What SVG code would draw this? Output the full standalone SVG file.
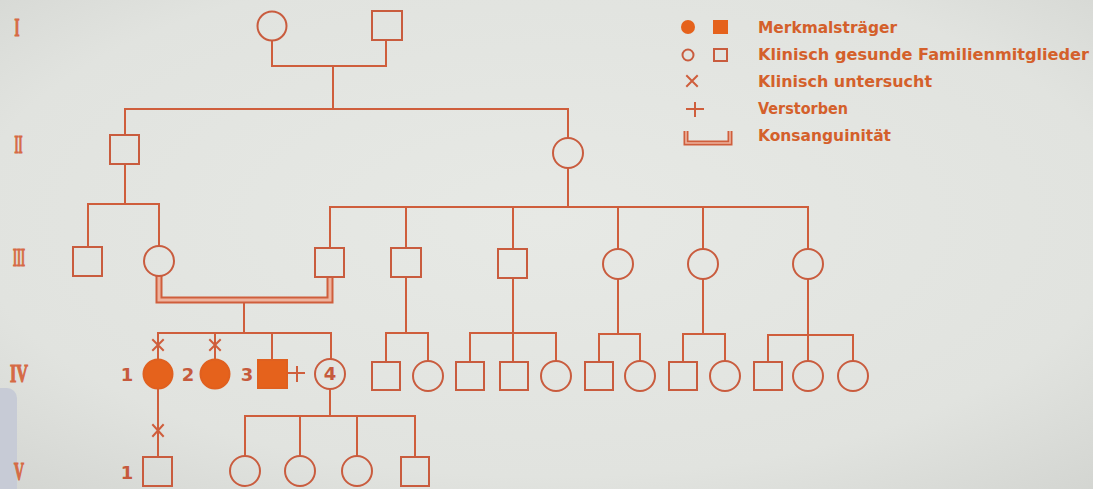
<svg xmlns="http://www.w3.org/2000/svg" width="1093" height="489" viewBox="0 0 1093 489">
<defs>
<radialGradient id="bg" cx="0.5" cy="0.45" r="0.75">
<stop offset="0" stop-color="#e7e9e5"/>
<stop offset="0.7" stop-color="#e1e3df"/>
<stop offset="1" stop-color="#d3d5d1"/>
</radialGradient>
<style>
.ln{fill:none;stroke:#cf5e3c;stroke-width:2;stroke-linecap:square}
.op{fill:none;stroke:#c95c3e;stroke-width:2}
.fl{fill:#e5621c;stroke:#e0601f;stroke-width:2}
.lf{fill:#e5621c}
.cons{fill:none;stroke:#cf5e3c;stroke-width:7;stroke-linejoin:miter}
.consi{fill:none;stroke:#eeb49f;stroke-width:3;stroke-linejoin:miter}
.lg{font-family:"DejaVu Sans","Liberation Sans",sans-serif;font-size:15.5px;fill:#d4602b;font-weight:bold}
.num{font-family:"DejaVu Sans","Liberation Sans",sans-serif;font-size:18px;fill:#c65a3c;font-weight:bold}
.gen{font-family:"Liberation Serif","DejaVu Serif",serif;font-size:25px;fill:#d66a45;stroke:#d66a45;stroke-width:1.2;font-weight:bold}
</style>
</defs>
<rect width="1093" height="489" fill="url(#bg)"/>
<rect x="-10" y="388" width="27" height="110" rx="10" fill="#c7cbd6"/>

<g id="gen-labels">
<text class="gen" x="17" y="36" text-anchor="middle" textLength="5" lengthAdjust="spacingAndGlyphs">I</text>
<text class="gen" x="18.5" y="153" text-anchor="middle" textLength="8" lengthAdjust="spacingAndGlyphs">II</text>
<text class="gen" x="19" y="266" text-anchor="middle" textLength="12" lengthAdjust="spacingAndGlyphs">III</text>
<text class="gen" x="19" y="382" text-anchor="middle" textLength="18" lengthAdjust="spacingAndGlyphs">IV</text>
<text class="gen" x="19" y="480" text-anchor="middle" textLength="10" lengthAdjust="spacingAndGlyphs">V</text>
</g>

<g id="connectors">
<path class="ln" d="M272,41 V66 H386 V40"/>
<path class="ln" d="M333,66 V109"/>
<path class="ln" d="M125,135 V109 H568 V138"/>
<path class="ln" d="M125,164 V204"/>
<path class="ln" d="M88,247 V204 H159 V246"/>
<path class="ln" d="M568,168 V207"/>
<path class="ln" d="M330,248 V207 H808 V249"/>
<path class="ln" d="M406,207 V248"/>
<path class="ln" d="M513,207 V249"/>
<path class="ln" d="M618,207 V249"/>
<path class="ln" d="M703,207 V249"/>
<path class="cons" d="M159,276 V300 H330 V277"/>
<path class="consi" d="M159,276 V300 H330 V277"/>
<path class="ln" d="M244,304 V333"/>
<path class="ln" d="M158,359 V333 H331 V359"/>
<path class="ln" d="M215,333 V359"/>
<path class="ln" d="M272,333 V359"/>
<path class="ln" d="M153,340 L163,350 M163,340 L153,350"/>
<path class="ln" d="M210,340 L220,350 M220,340 L210,350"/>
<path class="ln" d="M158,389 V457"/>
<path class="ln" d="M153,425 L163,436 M163,425 L153,436"/>
<path class="ln" d="M330,389 V416"/>
<path class="ln" d="M245,456 V416 H415 V457"/>
<path class="ln" d="M300,416 V456"/>
<path class="ln" d="M357,416 V456"/>
<path class="ln" d="M288,373 H304 M297,367 V381"/>
<path class="ln" d="M406,277 V333"/>
<path class="ln" d="M386,362 V333 H428 V361"/>
<path class="ln" d="M513,278 V362"/>
<path class="ln" d="M470,362 V333 H556 V361"/>
<path class="ln" d="M618,279 V334"/>
<path class="ln" d="M599,362 V334 H640 V361"/>
<path class="ln" d="M703,279 V334"/>
<path class="ln" d="M683,362 V334 H725 V361"/>
<path class="ln" d="M808,279 V361"/>
<path class="ln" d="M768,362 V335 H853 V361"/>
</g>

<g id="I-1"><circle class="op" cx="272" cy="26" r="14.5"/></g>
<g id="I-2"><rect class="op" x="372" y="11" width="30" height="29"/></g>

<g id="II-1"><rect class="op" x="110" y="135" width="29" height="29"/></g>
<g id="II-2"><circle class="op" cx="568" cy="153" r="15"/></g>

<g id="III-1"><rect class="op" x="73" y="247" width="29" height="29"/></g>
<g id="III-2"><circle class="op" cx="159" cy="261" r="15"/></g>
<g id="III-3"><rect class="op" x="315" y="248" width="29" height="29"/></g>
<g id="III-4"><rect class="op" x="391" y="248" width="30" height="29"/></g>
<g id="III-5"><rect class="op" x="498" y="249" width="29" height="29"/></g>
<g id="III-6"><circle class="op" cx="618" cy="264" r="15"/></g>
<g id="III-7"><circle class="op" cx="703" cy="264" r="15"/></g>
<g id="III-8"><circle class="op" cx="808" cy="264" r="15"/></g>

<g id="IV-1"><circle class="fl" cx="158" cy="374" r="14.5"/><text class="num" x="127" y="381" text-anchor="middle">1</text></g>
<g id="IV-2"><circle class="fl" cx="215" cy="374" r="14.5"/><text class="num" x="188" y="381" text-anchor="middle">2</text></g>
<g id="IV-3"><rect class="fl" x="258" y="360" width="29" height="28"/><text class="num" x="247" y="381" text-anchor="middle">3</text></g>
<g id="IV-4"><circle class="op" cx="330" cy="374" r="15"/><text class="num" x="330" y="380" text-anchor="middle" font-size="16">4</text></g>
<g id="IV-5"><rect class="op" x="372" y="362" width="28" height="28"/></g>
<g id="IV-6"><circle class="op" cx="428" cy="376" r="15"/></g>
<g id="IV-7"><rect class="op" x="456" y="362" width="28" height="28"/></g>
<g id="IV-8"><rect class="op" x="500" y="362" width="28" height="28"/></g>
<g id="IV-9"><circle class="op" cx="556" cy="376" r="15"/></g>
<g id="IV-10"><rect class="op" x="585" y="362" width="28" height="28"/></g>
<g id="IV-11"><circle class="op" cx="640" cy="376" r="15"/></g>
<g id="IV-12"><rect class="op" x="669" y="362" width="28" height="28"/></g>
<g id="IV-13"><circle class="op" cx="725" cy="376" r="15"/></g>
<g id="IV-14"><rect class="op" x="754" y="362" width="28" height="28"/></g>
<g id="IV-15"><circle class="op" cx="808" cy="376" r="15"/></g>
<g id="IV-16"><circle class="op" cx="853" cy="376" r="15"/></g>

<g id="V-1"><rect class="op" x="143" y="457" width="29" height="29"/><text class="num" x="127" y="479" text-anchor="middle">1</text></g>
<g id="V-2"><circle class="op" cx="245" cy="471" r="15"/></g>
<g id="V-3"><circle class="op" cx="300" cy="471" r="15"/></g>
<g id="V-4"><circle class="op" cx="357" cy="471" r="15"/></g>
<g id="V-5"><rect class="op" x="401" y="457" width="28" height="29"/></g>

<g id="legend">
<circle class="lf" cx="688" cy="27" r="7"/>
<rect class="lf" x="713" y="20" width="15" height="14"/>
<text class="lg" x="758" y="33" textLength="139" lengthAdjust="spacingAndGlyphs">Merkmalsträger</text>
<circle class="op" cx="688" cy="55" r="5.5" stroke-width="1.6"/>
<rect class="op" x="714" y="49" width="13" height="12" stroke-width="1.6"/>
<text class="lg" x="758" y="60" textLength="331" lengthAdjust="spacingAndGlyphs">Klinisch gesunde Familienmitglieder</text>
<path class="ln" d="M687,76 L697,86 M697,76 L687,86" stroke-width="1.8"/>
<text class="lg" x="758" y="87" textLength="174" lengthAdjust="spacingAndGlyphs">Klinisch untersucht</text>
<path class="ln" d="M687,109 H703 M695,103 V116" stroke-width="1.8"/>
<text class="lg" x="758" y="114" textLength="90" lengthAdjust="spacingAndGlyphs">Verstorben</text>
<path d="M686,131 V143 H730 V131" fill="none" stroke="#cf5e3c" stroke-width="5"/>
<path d="M686,131 V143 H730 V131" fill="none" stroke="#eeb49f" stroke-width="1.6"/>
<text class="lg" x="758" y="141" textLength="133" lengthAdjust="spacingAndGlyphs">Konsanguinität</text>
</g>
</svg>
